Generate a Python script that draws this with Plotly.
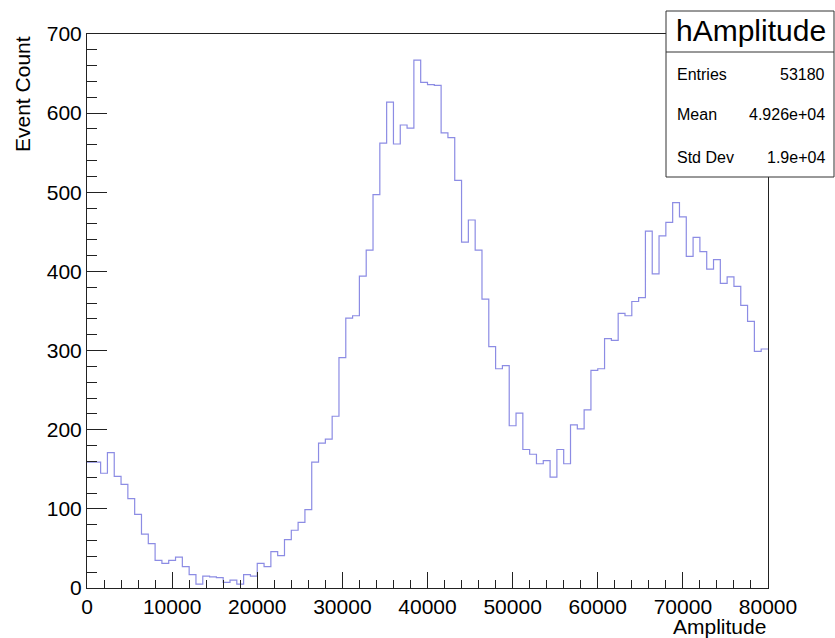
import plotly.graph_objects as go

# Histogram: 100 bins of width 800 from 0 to 80000
bin_width = 800
n_bins = 100
counts = [
    159, 159, 145, 171, 141, 131, 113, 93, 68, 56,
    35, 31, 35, 39, 27, 17, 5, 15, 14, 13,
    7, 10, 5, 17, 15, 31, 27, 46, 41, 61,
    73, 83, 99, 159, 183, 188, 217, 291, 341, 344,
    394, 427, 497, 562, 614, 561, 585, 581, 667, 639,
    636, 635, 575, 569, 515, 437, 465, 427, 365, 305,
    277, 281, 205, 221, 175, 169, 157, 161, 140, 175,
    157, 206, 201, 225, 275, 277, 315, 313, 347, 344,
    362, 367, 451, 397, 445, 462, 487, 469, 419, 443,
    425, 403, 415, 385, 393, 381, 357, 337, 299, 302,
]
stat_labels = ["Entries", "Mean", "Std Dev"]
stat_values = ["53180", "4.926e+04", "1.9e+04"]
hist_name = "hAmplitude"

edges = [i * bin_width for i in range(n_bins + 1)]
xs = edges
ys = counts + [counts[-1]]

FONT = "Liberation Sans, Arial, Helvetica, sans-serif"
AX = "#222222"

fig = go.Figure()
fig.add_trace(go.Scatter(
    x=xs, y=ys, mode="lines", line=dict(shape="hv", color="rgb(140,140,228)", width=1.2),
    hoverinfo="skip", showlegend=False,
))

L, R, T, B = 87, 67, 34, 50
W, H = 835, 638
pw = W - L - R
ph = H - T - B

def px(x):
    return (x - L) / pw

def py(y):
    return (H - B - y) / ph

fig.update_layout(
    width=W, height=H,
    margin=dict(l=L, r=R, t=T, b=B, pad=0),
    paper_bgcolor="white", plot_bgcolor="white",
    font=dict(family=FONT, size=21, color="black"),
    showlegend=False,
    xaxis=dict(
        range=[0, 80000], showgrid=False, zeroline=False,
        showline=True, linecolor=AX, linewidth=1, mirror=True,
        ticks="inside", ticklen=16, tickwidth=1, tickcolor=AX,
        tick0=0, dtick=10000, tickformat="d",
        minor=dict(ticks="inside", ticklen=8, dtick=2000, tickcolor=AX, showgrid=False),
        tickfont=dict(size=21, family=FONT),
    ),
    yaxis=dict(
        range=[0, 700], showgrid=False, zeroline=False,
        showline=True, linecolor=AX, linewidth=1, mirror=True,
        ticks="inside", ticklen=20, tickwidth=1, tickcolor=AX,
        tick0=0, dtick=100,
        minor=dict(ticks="inside", ticklen=10, dtick=20, tickcolor=AX, showgrid=False),
        tickfont=dict(size=21, family=FONT),
    ),
)

annotations = [
    dict(text="Amplitude", xref="paper", yref="paper", x=1.0, y=py(626),
         xanchor="right", yanchor="middle", showarrow=False, font=dict(size=21)),
    dict(text="Event Count", xref="paper", yref="paper", x=px(22), y=1.0,
         xanchor="center", yanchor="top", textangle=-90, showarrow=False, font=dict(size=21)),
    dict(text=hist_name, xref="paper", yref="paper", x=px(751), y=py(31),
         xanchor="center", yanchor="middle", showarrow=False, font=dict(size=30)),
]
row_y = [74, 115, 157]
for lab, val, yy in zip(stat_labels, stat_values, row_y):
    annotations.append(dict(text=lab, xref="paper", yref="paper", x=px(675), y=py(yy),
                            xanchor="left", yanchor="middle", showarrow=False, font=dict(size=16)))
    annotations.append(dict(text=val, xref="paper", yref="paper", x=px(827), y=py(yy),
                            xanchor="right", yanchor="middle", showarrow=False, font=dict(size=16)))
fig.update_layout(annotations=annotations)

fig.add_shape(type="rect", xref="paper", yref="paper",
              x0=px(666), x1=px(834), y0=py(177), y1=py(11),
              line=dict(color="#333333", width=1), fillcolor="white", layer="above")
fig.add_shape(type="line", xref="paper", yref="paper",
              x0=px(666), x1=px(834), y0=py(52), y1=py(52),
              line=dict(color="#333333", width=1), layer="above")

fig.write_html("out.html", config={"displayModeBar": False},
               post_script="document.body.style.margin='0';document.body.style.padding='0';")
